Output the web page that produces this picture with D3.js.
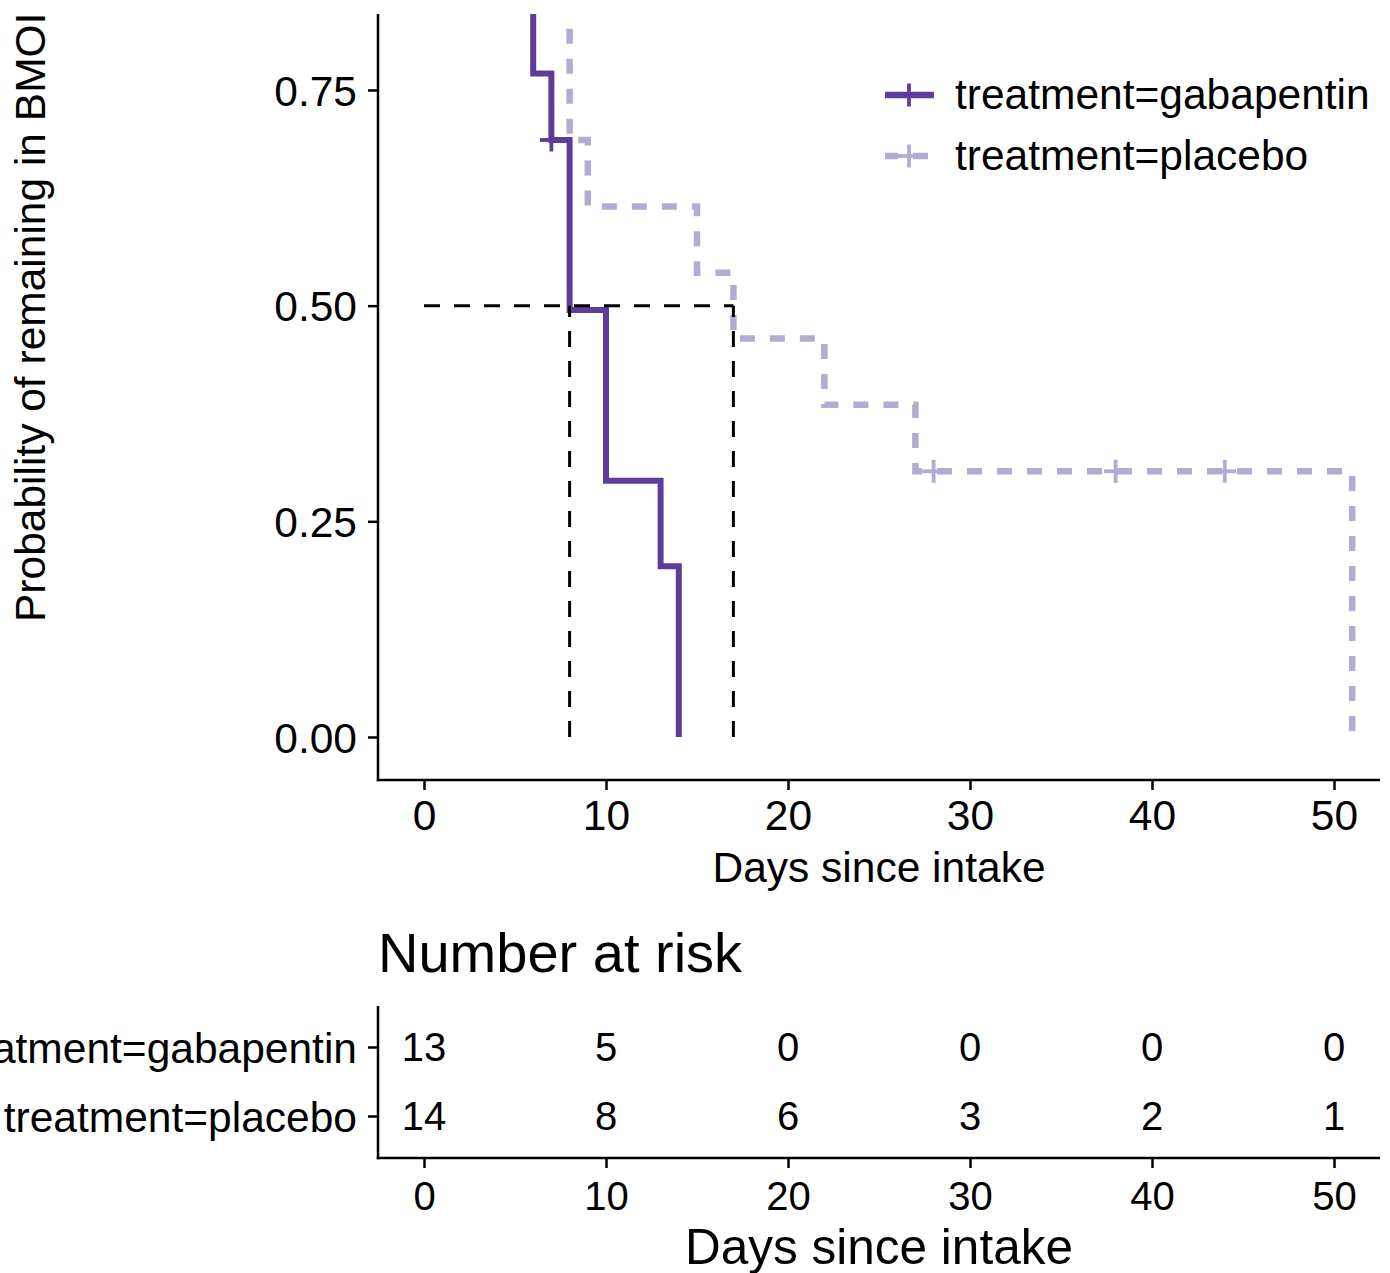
<!DOCTYPE html>
<html><head><meta charset="utf-8">
<script src="https://cdn.jsdelivr.net/npm/d3@7"></script>
<style>
body{margin:0;background:#fff}
svg{display:block}
text{font-family:"Liberation Sans",Arial,Helvetica,sans-serif;fill:#000}
</style>
</head><body>
<svg id="chart" width="1390" height="1273"></svg>
<script>
// ---------- data ----------
const strata = ["treatment=gabapentin", "treatment=placebo"];
const gabaTime = [0, 6, 7, 8, 10, 13, 14];
const gabaSurv = [1, 0.769, 0.692, 0.495, 0.297, 0.198, 0];
const gabaCensorTime = [7];
const gabaCensorSurv = [0.692];
const placeboTime = [0, 8, 9, 15, 17, 22, 27, 51];
const placeboSurv = [1, 0.692, 0.615, 0.538, 0.462, 0.385, 0.308, 0];
const placeboCensorTime = [28, 38, 44];
const placeboCensorSurv = [0.308, 0.308, 0.308];
const medianTimes = [8, 17];
const medianLevel = 0.5;
const xTicks = [0, 10, 20, 30, 40, 50];
const yTicks = [0, 0.25, 0.5, 0.75, 1];
const riskGaba = [13, 5, 0, 0, 0, 0];
const riskPlacebo = [14, 8, 6, 3, 2, 1];
const yLabel = "Probability of remaining in BMOI";
const xLabel = "Days since intake";
const tableTitle = "Number at risk";

// ---------- layout ----------
const colors = ["#5e3c99", "#b2abd2"];
const axisX0 = 378, axisRight = 1380;
const panelBottom = 780;
const svg = d3.select("#chart");
svg.append("defs").append("clipPath").attr("id", "topclip")
  .append("rect").attr("x", 0).attr("y", 14).attr("width", 1390).attr("height", 1273);
const root = svg.append("g").attr("clip-path", "url(#topclip)");

const x = d3.scaleLinear().domain([0, 50]).range([424, 1334]);
const y = d3.scaleLinear().domain([0, 1]).range([737, -125.7]);

const FS = 42.5;

// ---------- upper axes ----------
const yAx = root.append("g").attr("transform", `translate(${axisX0},0)`)
  .call(d3.axisLeft(y).tickValues(yTicks).tickFormat(d3.format(".2f")).tickSize(10).tickPadding(11));
yAx.select(".domain").remove();
yAx.selectAll(".tick line").attr("stroke", "#000").attr("stroke-width", 2.5);
yAx.selectAll(".tick text").attr("font-size", FS).attr("dy", "0.36em").attr("font-family", null);
root.append("line").attr("x1", axisX0).attr("x2", axisX0).attr("y1", 0).attr("y2", panelBottom + 1.25)
  .attr("stroke", "#000").attr("stroke-width", 2.5);

const xAx = root.append("g").attr("transform", `translate(0,${panelBottom})`)
  .call(d3.axisBottom(x).tickValues(xTicks).tickSize(10).tickPadding(10));
xAx.select(".domain").remove();
xAx.selectAll(".tick line").attr("stroke", "#000").attr("stroke-width", 2.5);
xAx.selectAll(".tick text").attr("font-size", FS).attr("font-family", null);
root.append("line").attr("x1", axisX0 - 1.25).attr("x2", axisRight).attr("y1", panelBottom).attr("y2", panelBottom)
  .attr("stroke", "#000").attr("stroke-width", 2.5);

root.append("text").attr("x", (axisX0 + axisRight) / 2).attr("y", 882)
  .attr("text-anchor", "middle").attr("font-size", FS).text(xLabel);

root.append("text").attr("transform", "translate(45,622) rotate(-90)")
  .attr("text-anchor", "start").attr("font-size", FS).text(yLabel);

// ---------- curves ----------
const step = d3.line().x(d => x(d[0])).y(d => y(d[1])).curve(d3.curveStepAfter);
const curves = [
  {t: gabaTime, s: gabaSurv, ct: gabaCensorTime, cs: gabaCensorSurv, dash: null, w: 6},
  {t: placeboTime, s: placeboSurv, ct: placeboCensorTime, cs: placeboCensorSurv, dash: "15,15", w: 6.5}
];
const plotG = root.append("g");
curves.forEach((c, i) => {
  const pts = c.t.map((t, k) => [t, c.s[k]]);
  plotG.append("path").attr("d", step(pts)).attr("fill", "none")
    .attr("stroke", colors[i]).attr("stroke-width", c.w)
    .attr("stroke-dasharray", c.dash);
});
const crossSize = 11.5;
function cross(g, cx, cy, col) {
  g.append("line").attr("x1", cx - crossSize).attr("x2", cx + crossSize).attr("y1", cy).attr("y2", cy)
    .attr("stroke", col).attr("stroke-width", 3.8);
  g.append("line").attr("x1", cx).attr("x2", cx).attr("y1", cy - crossSize).attr("y2", cy + crossSize)
    .attr("stroke", col).attr("stroke-width", 3.8);
}
curves.forEach((c, i) => {
  c.ct.forEach((t, k) => cross(plotG, x(t), y(c.cs[k]), colors[i]));
});

// median lines
const medG = root.append("g").attr("stroke", "#000").attr("stroke-width", 3).attr("stroke-dasharray", "16,14").attr("fill", "none");
medG.append("line").attr("x1", x(0)).attr("x2", x(d3.max(medianTimes))).attr("y1", y(medianLevel)).attr("y2", y(medianLevel));
medianTimes.forEach(m => {
  medG.append("line").attr("x1", x(m)).attr("x2", x(m)).attr("y1", y(0)).attr("y2", y(medianLevel));
});

// ---------- legend ----------
const legY = [95, 156];
strata.forEach((s, i) => {
  const g = root.append("g");
  g.append("line").attr("x1", 885).attr("x2", 934).attr("y1", legY[i]).attr("y2", legY[i])
    .attr("stroke", colors[i]).attr("stroke-width", 6.5)
    .attr("stroke-dasharray", curves[i].dash).attr("stroke-dashoffset", 2);
  cross(g, 909, legY[i], colors[i]);
  g.append("text").attr("x", 955).attr("y", legY[i] + 14).attr("font-size", FS).text(s);
});

// ---------- risk table ----------
root.append("text").attr("x", 378).attr("y", 972).attr("font-size", 56).text(tableTitle);
const tableTop = 1006, tableBottom = 1158;
const rowY = d3.scalePoint().domain(strata).range([1047, 1116]);
const tY = root.append("g").attr("transform", `translate(${axisX0},0)`)
  .call(d3.axisLeft(rowY).tickSize(10).tickPadding(11));
tY.select(".domain").remove();
tY.selectAll(".tick line").attr("stroke", "#000").attr("stroke-width", 2.5);
tY.selectAll(".tick text").attr("font-size", FS).attr("dy", "0.36em").attr("font-family", null);
root.append("line").attr("x1", axisX0).attr("x2", axisX0).attr("y1", tableTop).attr("y2", tableBottom + 1.25)
  .attr("stroke", "#000").attr("stroke-width", 2.5);
const tX = root.append("g").attr("transform", `translate(0,${tableBottom})`)
  .call(d3.axisBottom(x).tickValues(xTicks).tickSize(10).tickPadding(14));
tX.select(".domain").remove();
tX.selectAll(".tick line").attr("stroke", "#000").attr("stroke-width", 2.5);
tX.selectAll(".tick text").attr("font-size", 40).attr("font-family", null);
root.append("line").attr("x1", axisX0 - 1.25).attr("x2", axisRight).attr("y1", tableBottom).attr("y2", tableBottom)
  .attr("stroke", "#000").attr("stroke-width", 2.5);

const risks = [riskGaba, riskPlacebo];
strata.forEach((s, i) => {
  root.append("g").selectAll("text").data(xTicks).join("text")
    .attr("x", d => x(d)).attr("y", rowY(s)).attr("dy", "0.36em")
    .attr("text-anchor", "middle").attr("font-size", 40)
    .text((d, k) => risks[i][k]);
});
root.append("text").attr("x", (axisX0 + axisRight) / 2).attr("y", 1264)
  .attr("text-anchor", "middle").attr("font-size", 49.5).text(xLabel);
</script>
</body></html>
